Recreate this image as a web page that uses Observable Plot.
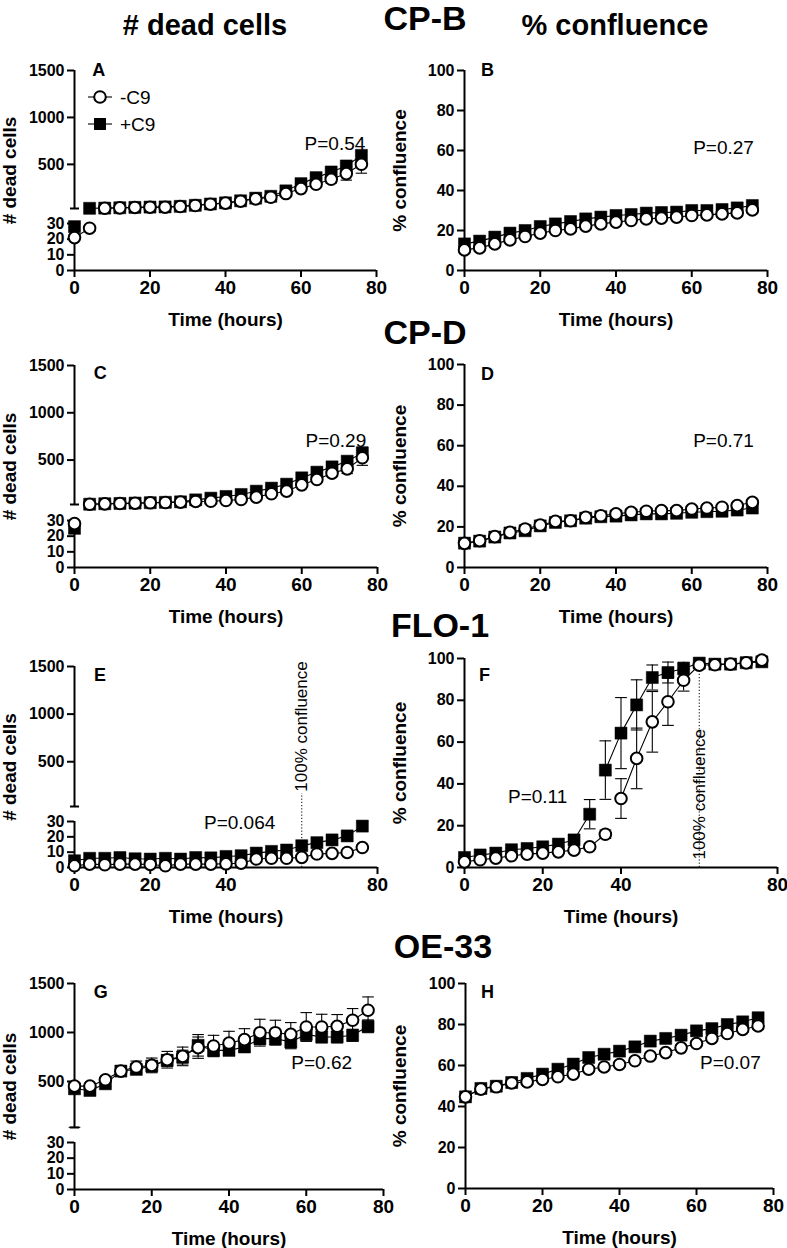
<!DOCTYPE html>
<html><head><meta charset="utf-8">
<script src="https://cdn.jsdelivr.net/npm/d3@7"></script>
<script src="https://cdn.jsdelivr.net/npm/@observablehq/plot@0.6"></script>
<style>
body{margin:0;background:#fff;font-family:"Liberation Sans",Arial,Helvetica,sans-serif;}
#fig{position:relative;width:787px;height:1248px;overflow:hidden;background:#fff;}
.title{position:absolute;font-weight:bold;transform:translate(-50%,-50%);white-space:nowrap;line-height:1;color:#000;z-index:5;}
.legend{position:absolute;z-index:5;}
</style></head><body><div id="fig"></div>
<script>
// ---------------- data ----------------
const hours = [0,4,8,12,16,20,24,28,32,36,40,44,48,52,56,60,64,68,72,76];
const seriesNames = ["-C9", "+C9"];
const columnTitles = ["# dead cells", "% confluence"];
const cellLines = ["CP-B", "CP-D", "FLO-1", "OE-33"];
const deadTicks = [0, 10, 20, 30, 500, 1000, 1500];
const confTicks = [0, 20, 40, 60, 80, 100];
const timeTicks = [0, 20, 40, 60, 80];
const timeTicksFlo = [0, 20, 40, 80];

// CP-B
const A_minus = [21,27,32,37,41,44,44,51,62,76,87,108,133,150,189,242,288,341,402,501];
const A_plus  = [28,32,34,38,42,45,47,53,64,78,90,112,140,160,218,295,359,419,483,596];
const A_minusErr = [2,2,3,3,3,3,3,4,5,6,7,9,12,15,20,25,30,40,70,95];
const A_plusErr  = [2,3,3,3,3,3,3,4,5,6,7,9,12,15,20,25,30,35,30,40];
const B_minus = [10.3,11.3,13.3,15.3,17,18.7,20,20.8,22.2,23.3,24.2,25,25.8,26.2,26.7,27.5,27.8,28.3,28.8,30.3];
const B_plus  = [13.3,14.7,16.7,18.7,20,22,23.3,24.5,25.8,26.7,27.5,28,28.7,29,29.2,30,30,30.5,31.3,32.5];
const B_minusErr = [0.8,0.8,0.9,0.9,1,1,1,1,1.1,1.1,1.2,1.2,1.2,1.3,1.3,1.4,1.4,1.5,1.5,1.6];
const B_plusErr  = [0.8,0.8,0.9,0.9,1,1,1,1,1.1,1.1,1.2,1.2,1.2,1.3,1.3,1.4,1.4,1.5,1.5,1.6];
// CP-D
const C_minus = [28,32,37,40,44,48,51,55,62,64,72,83,108,143,171,238,294,361,407,524];
const C_plus  = [25,33,38,41,45,49,53,58,79,97,115,136,171,203,245,312,372,428,488,576];
const C_minusErr = [3,3,3,3,3,4,4,5,6,7,8,10,12,15,20,25,30,35,50,80];
const C_plusErr  = [3,3,3,3,4,4,5,6,8,10,12,14,16,20,25,30,35,40,45,60];
const D_minus = [11.9,13.2,15.2,17.3,19,20.9,22.7,23,24.7,25.5,26.4,27.2,27.7,28,28,28.8,29.3,29.7,30.5,32.1];
const D_plus  = [12,13,15,17,18.1,20.5,22.2,23,24.3,25,25.3,25.9,26.4,26.4,26.7,27.2,27.5,27.7,28.3,29.3];
const D_minusErr = [0.8,0.8,0.9,0.9,1,1,1,1,1.1,1.1,1.2,1.2,1.2,1.3,1.3,1.4,1.4,1.5,1.5,1.6];
const D_plusErr  = [0.8,0.8,0.9,0.9,1,1,1,1,1.1,1.1,1.2,1.2,1.2,1.3,1.3,1.4,1.4,1.5,1.5,1.6];
// FLO-1
const E_minus = [1.1,2.2,1.8,2.2,2.2,2,1.1,2.2,2.2,2.2,2.4,2.8,5.5,6,6,6.6,8.8,9.2,9.8,13];
const E_plus  = [4.4,6,6,6.5,5.7,5.5,6,5.5,6.5,6.3,7.2,7.7,9.4,10.5,11.4,14.2,16.2,18,20.6,27];
const E_minusErr = [0.5,0.6,0.6,0.6,0.6,0.6,0.6,0.6,0.7,0.7,0.7,0.8,0.9,1,1,1.1,1.2,1.2,1.3,1.5];
const E_plusErr  = [0.6,0.7,0.7,0.7,0.7,0.7,0.7,0.7,0.8,0.8,0.9,1,1.1,1.2,1.3,1.4,1.5,1.6,1.8,2.2];
const F_minus = [2.7,3.7,4.5,5.6,6.4,6.9,7.5,8.3,9.9,15.9,33,52.2,69.7,79.3,89.6,96.8,97,97.3,97.9,99.2];
const F_plus  = [4.8,6,6.9,8.5,9.1,9.9,11.2,13.2,25.5,46.6,64.3,77.8,90.9,93.3,95.2,97.8,97.3,97.3,98,98.4];
const F_minusErr = [0.5,0.5,0.5,0.6,0.7,0.8,0.9,1,1.2,2,9.5,14.5,14.5,11.3,5.2,1.5,1,1,1,1];
const F_plusErr  = [0.6,0.6,0.7,0.8,0.9,1,1.2,1.5,7,14,17,12,6,5,3,1.5,1,1,1,1];
// OE-33
const G_minus = [452,452,517,606,647,664,722,756,845,862,892,927,998,998,981,1056,1056,1063,1125,1227];
const G_plus  = [425,408,476,606,623,657,715,749,869,817,817,852,937,937,903,981,954,954,971,1063];
const G_minusErr = [[420,0],20,25,30,61,75,85,95,109,109,120,112,137,127,120,147,130,120,119,136];
const G_plusErr  = [30,25,30,30,40,50,60,70,110,51,50,50,60,60,69,60,60,60,61,65];
const H_minus = [44.7,48.5,49.6,51.5,52,53.2,54.5,55.8,58.2,59.3,60.5,62.3,64.6,66.3,68.6,70.7,73.2,75.6,77.6,79.3];
const H_plus  = [44.7,48.8,49.9,51.7,53.7,55.8,58.2,60.7,63.9,65.5,67,69.1,71.9,73.2,74.8,76.9,78,80,81.3,83.3];
const H_minusErr = [0.8,0.8,0.8,0.9,0.9,1,1,1,1.1,1.1,1.2,1.2,1.2,1.3,1.3,1.4,1.4,1.5,1.5,1.6];
const H_plusErr  = [0.8,0.8,0.8,0.9,0.9,1,1,1,1.1,1.1,1.2,1.2,1.2,1.3,1.3,1.4,1.4,1.5,1.5,1.6];

const pValues = ["P=0.54","P=0.27","P=0.29","P=0.71","P=0.064","P=0.11","P=0.62","P=0.07"];
const confluenceNote = "100% confluence";
const confluenceHour = 60;

// ---------------- drawing ----------------
const FONT = "'Liberation Sans', Arial, Helvetica, sans-serif";
const BREAK_LO = 30, BREAK_HI = 30.01, DEAD_MAX = 1500;
const fig = document.getElementById("fig");

// broken-axis transform: lower segment 0–30, gap, upper segment 30–1500 (in lower-segment units)
function brokenTransform(yPix) {
  const [yBot, y30, yBrk, yTop] = yPix;
  const pl = (yBot - y30) / BREAK_LO;
  const pu = (yBrk - yTop) / (DEAD_MAX - BREAK_HI);
  const gap = (y30 - yBrk) / pl;
  return v => v <= BREAK_LO ? v : BREAK_LO + gap + (Math.max(v, BREAK_HI) - BREAK_HI) * pu / pl;
}

function rows(vals, errs, series, T, broken) {
  return hours.map((t, i) => {
    const e = errs[i];
    let [dn, up] = Array.isArray(e) ? e : [e, e];
    const v = vals[i];
    const upper = v > BREAK_LO;
    let lo = v - dn, hi = v + up, capLo = dn > 0, capHi = up > 0;
    if (broken && upper && lo <= BREAK_LO) { lo = BREAK_HI; capLo = false; }
    if (broken && !upper && hi > BREAK_LO) { hi = BREAK_LO; capHi = false; }
    return {t, v, y: T(v), lo: T(lo), hi: T(hi), capLo, capHi, series, seg: upper ? 1 : 0};
  });
}

function panel(cfg) {
  const broken = cfg.broken;
  const [yBot, , , yTop] = cfg.yPix;
  const T = broken ? brokenTransform(cfg.yPix) : (v => v);
  const yMax = broken ? T(DEAD_MAX) : 100;
  const minus = rows(cfg.minus, cfg.minusErr, seriesNames[0], T, broken);
  const plus = rows(cfg.plus, cfg.plusErr, seriesNames[1], T, broken);
  const all = plus.concat(minus);
  const yTicks = broken ? deadTicks : confTicks;
  const marks = [];
  // axis lines
  marks.push(Plot.ruleY([0], {x1: 0, x2: 80, stroke: "black", strokeWidth: 2}));
  if (broken) {
    marks.push(Plot.ruleX([0], {y1: T(0), y2: T(BREAK_LO), stroke: "black", strokeWidth: 2}));
    marks.push(Plot.ruleX([0], {y1: T(BREAK_HI), y2: T(DEAD_MAX), stroke: "black", strokeWidth: 2}));
    marks.push(Plot.link([BREAK_HI], {x1: -1.2, x2: 1.2, y1: d => T(d), y2: d => T(d), stroke: "black", strokeWidth: 2}));
  } else {
    marks.push(Plot.ruleX([0], {y1: 0, y2: 100, stroke: "black", strokeWidth: 2}));
  }
  marks.push(Plot.axisY(yTicks, {y: d => T(d), text: d => d3.format("d")(d), tickSize: 7, tickPadding: 3, strokeWidth: 2,
    fontSize: 16, fontWeight: "bold", label: null}));
  marks.push(Plot.axisY({ticks: [], label: cfg.ylabel, labelAnchor: "center", labelArrow: "none",
    labelOffset: cfg.marginLeft - 2, fontSize: 19, fontWeight: "bold"}));
  marks.push(Plot.axisX({ticks: cfg.xTicks, tickSize: 7, tickPadding: 3, strokeWidth: 2,
    tickFormat: d => d3.format("d")(d), fontSize: 19, fontWeight: "bold",
    label: "Time (hours)", labelAnchor: "center", labelArrow: "none", labelOffset: 55}));
  // confluence marker
  if (cfg.conf) {
    marks.push(Plot.ruleX([confluenceHour], {y1: 0, y2: T(cfg.conf.lineTop), stroke: "black", strokeWidth: 1, strokeDasharray: "1.2,2"}));
    marks.push(Plot.text([confluenceNote], {x: confluenceHour, y: T(cfg.conf.textY), text: d => d, rotate: -90,
      fontSize: 17, fill: "black"}));
  }
  // lines
  marks.push(Plot.line(all, {x: "t", y: "y", z: d => d.series + d.seg, stroke: "black", strokeWidth: 1.1}));
  // error bars
  for (const d of [plus, minus]) {
    marks.push(Plot.ruleX(d, {x: "t", y1: "lo", y2: "hi", stroke: "black", strokeWidth: 1.1}));
    marks.push(Plot.link(d.filter(r => r.capHi), {x1: r => r.t - 1.5, x2: r => r.t + 1.5, y1: "hi", y2: "hi", stroke: "black", strokeWidth: 1.1}));
    marks.push(Plot.link(d.filter(r => r.capLo), {x1: r => r.t - 1.5, x2: r => r.t + 1.5, y1: "lo", y2: "lo", stroke: "black", strokeWidth: 1.1}));
  }
  // markers
  marks.push(Plot.dot(plus, {x: "t", y: "y", symbol: "square", r: 6.8, fill: "black", stroke: "black", strokeWidth: 0.5}));
  marks.push(Plot.dot(minus, {x: "t", y: "y", symbol: "circle", r: 5.8, fill: "white", stroke: "black", strokeWidth: 2}));
  // annotations
  marks.push(Plot.text([cfg.p], {x: cfg.pPos[0], y: T(cfg.pPos[1]), text: d => d, fontSize: 19, fill: "black"}));
  marks.push(Plot.text([cfg.letter], {x: cfg.letterPos[0], y: T(cfg.letterPos[1]), text: d => d, fontSize: 18, fontWeight: "bold", fill: "black"}));

  const svg = Plot.plot({
    width: cfg.width, height: cfg.height,
    marginLeft: cfg.marginLeft, marginRight: cfg.width - cfg.xEnd,
    marginTop: yTop, marginBottom: cfg.height - yBot,
    x: {domain: [0, 80]},
    y: {domain: [0, yMax]},
    style: {fontFamily: FONT, color: "black", background: "transparent", overflow: "visible"},
    marks
  });
  svg.style.left = cfg.left + "px";
  svg.style.top = cfg.top + "px";
  svg.style.position = "absolute";
  fig.appendChild(svg);
}

const L = {left: 0, width: 390, marginLeft: 74, broken: true, ylabel: "# dead cells"};
const R = {left: 390, width: 397, marginLeft: 74, broken: false, ylabel: "% confluence"};

panel({...L, top: 40, height: 290, xEnd: 376, yPix: [230, 183, 168, 30], xTicks: timeTicks,
  minus: A_minus, plus: A_plus, minusErr: A_minusErr, plusErr: A_plusErr,
  p: pValues[0], pPos: [69, 720], letter: "A", letterPos: [6.4, 1500]});
panel({...R, top: 40, height: 290, xEnd: 377, yPix: [230, 0, 0, 30], xTicks: timeTicks,
  minus: B_minus, plus: B_plus, minusErr: B_minusErr, plusErr: B_plusErr,
  p: pValues[1], pPos: [68.4, 61.5], letter: "B", letterPos: [6.1, 100]});
panel({...L, top: 340, height: 290, xEnd: 377, yPix: [227, 180, 164, 25], xTicks: timeTicks,
  minus: C_minus, plus: C_plus, minusErr: C_minusErr, plusErr: C_plusErr,
  p: pValues[2], pPos: [69, 707], letter: "C", letterPos: [6.8, 1415]});
panel({...R, top: 340, height: 290, xEnd: 377, yPix: [227, 0, 0, 24], xTicks: timeTicks,
  minus: D_minus, plus: D_plus, minusErr: D_minusErr, plusErr: D_plusErr,
  p: pValues[3], pPos: [68.4, 62.6], letter: "D", letterPos: [6.1, 95]});
panel({...L, top: 640, height: 290, xEnd: 377, yPix: [227, 181, 166, 26], xTicks: timeTicksFlo,
  minus: E_minus, plus: E_plus, minusErr: E_minusErr, plusErr: E_plusErr,
  p: pValues[4], pPos: [43.6, 29], letter: "E", letterPos: [6.7, 1405],
  conf: {lineTop: 166, textY: 870}});
panel({...R, top: 640, height: 290, xEnd: 387, yPix: [227, 0, 0, 18], xTicks: timeTicksFlo,
  minus: F_minus, plus: F_plus, minusErr: F_minusErr, plusErr: F_plusErr,
  p: pValues[5], pPos: [18.7, 34], letter: "F", letterPos: [5.1, 92],
  conf: {lineTop: 96.6, textY: 35}});
panel({...L, top: 960, height: 288, xEnd: 383, yPix: [229, 182, 167, 23], xTicks: timeTicks,
  minus: G_minus, plus: G_plus, minusErr: G_minusErr, plusErr: G_plusErr,
  p: pValues[6], pPos: [64, 694], letter: "G", letterPos: [6.8, 1408]});
panel({...R, top: 960, height: 288, marginLeft: 75, xEnd: 383, yPix: [228, 0, 0, 23], xTicks: timeTicks,
  minus: H_minus, plus: H_plus, minusErr: H_minusErr, plusErr: H_plusErr,
  p: pValues[7], pPos: [68.8, 61.5], letter: "H", letterPos: [5.7, 95.6]});

// titles
function title(text, x, y, size) {
  const d = document.createElement("div");
  d.className = "title";
  d.textContent = text;
  d.style.left = x + "px"; d.style.top = y + "px"; d.style.fontSize = size + "px";
  fig.appendChild(d);
}
title(columnTitles[0], 205, 25, 29);
title(columnTitles[1], 615, 25, 29);
title(cellLines[0], 425, 18, 34);
title(cellLines[1], 425, 332, 34);
title(cellLines[2], 440, 625, 34);
title(cellLines[3], 443, 946, 34);

// legend (panel A)
const lg = document.createElement("div");
lg.className = "legend";
lg.style.left = "86px"; lg.style.top = "82px";
lg.innerHTML = `<svg width="90" height="56" style="overflow:visible">
  <line x1="2" x2="26" y1="15" y2="15" stroke="black" stroke-width="1.1"/>
  <circle cx="14" cy="15" r="5.8" fill="white" stroke="black" stroke-width="2"/>
  <text x="34" y="15" dy="0.35em" font-size="19" font-family="${FONT}">${seriesNames[0]}</text>
  <line x1="2" x2="26" y1="42" y2="42" stroke="black" stroke-width="1.1"/>
  <rect x="8" y="36" width="12" height="12" fill="black"/>
  <text x="34" y="42" dy="0.35em" font-size="19" font-family="${FONT}">${seriesNames[1]}</text>
</svg>`;
fig.appendChild(lg);
</script></body></html>
